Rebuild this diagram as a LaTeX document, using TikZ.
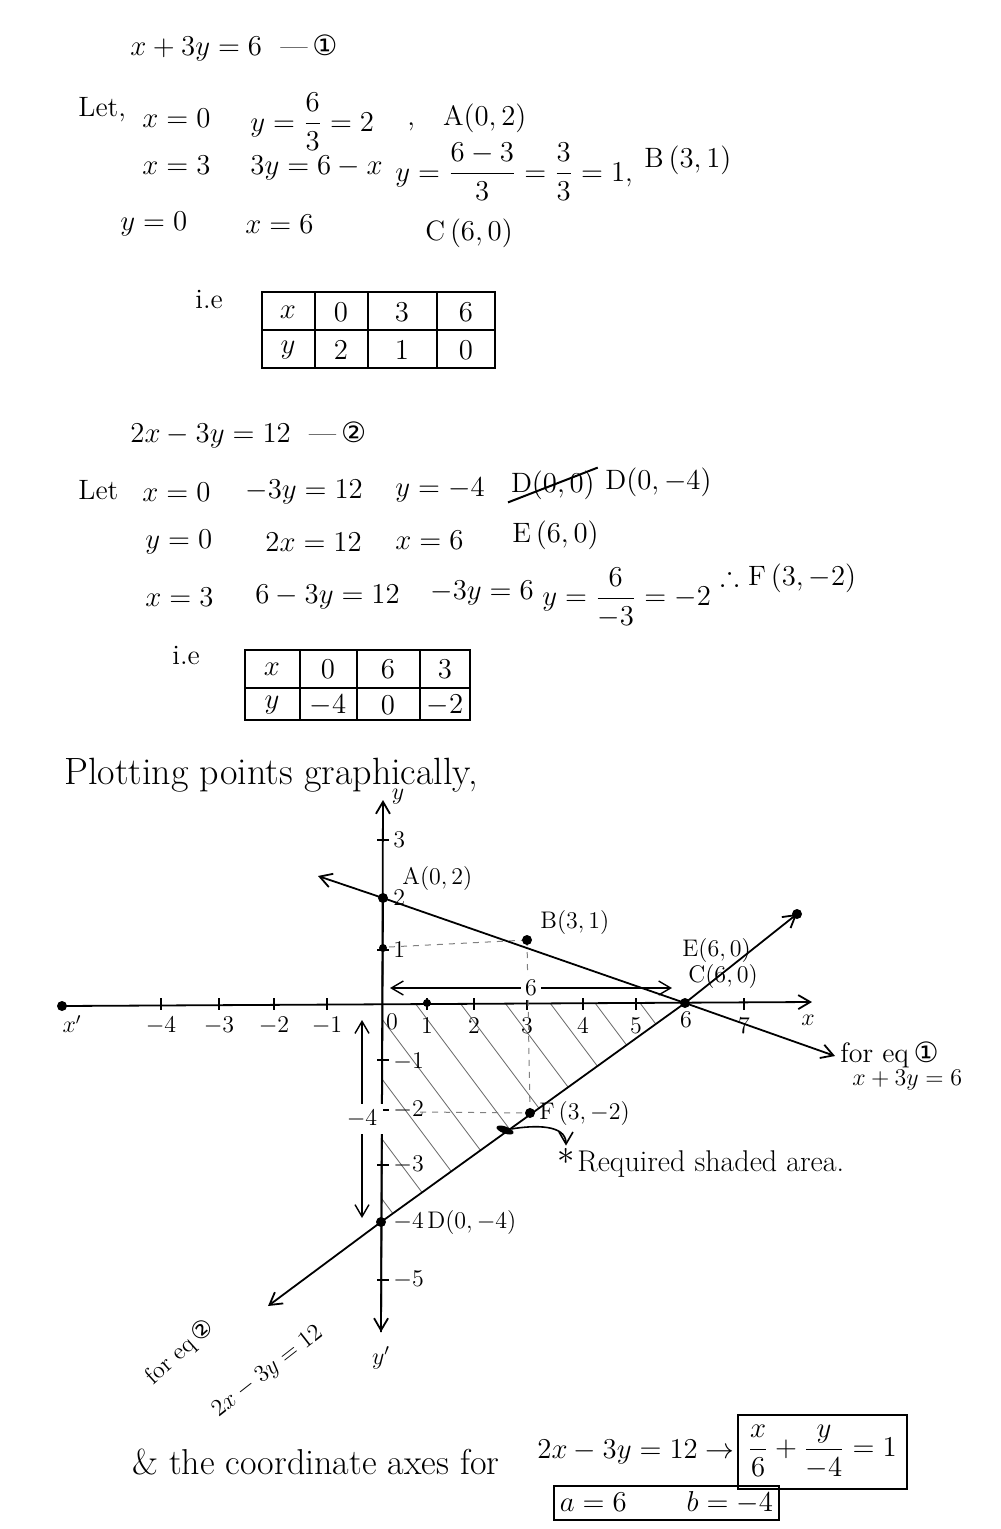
\documentclass[tikz,border=0pt]{standalone}
\usepackage{amsmath,amssymb}
\usepackage{fontspec}
\newfontfamily\dejavu{DejaVu Sans}
\usetikzlibrary{arrows.meta,shapes.misc,shapes.geometric}
\newcommand{\cone}{{\dejavu ①}}
\newcommand{\ctwo}{{\dejavu ②}}
\begin{document}
\begin{tikzpicture}[x=0.5pt,y=-0.5pt,
  txt/.style={anchor=west,inner sep=1pt,font=\fontsize{14}{17}\selectfont},
  big/.style={anchor=west,inner sep=1pt,font=\fontsize{19}{22}\selectfont},
  lbl/.style={inner sep=1pt,font=\fontsize{12}{14}\selectfont},
  dotp/.style={circle,fill,inner sep=0pt,minimum size=5pt},
  cell/.style={inner sep=1pt,font=\fontsize{14}{16}\selectfont},
  ln/.style={line width=0.9pt},
  tip/.style={-{Straight Barb[length=6pt,width=7pt]}},
  dtip/.style={{Straight Barb[length=6pt,width=7pt]}-{Straight Barb[length=6pt,width=7pt]}},
  dsh/.style={dashed,line width=0.5pt,gray},
  boxn/.style={draw,line width=0.8pt,inner sep=5pt,font=\fontsize{15}{18}\selectfont}]
\useasboundingbox[fill=white] (0,0) rectangle (1000,1529);

% ---------- equation 1 ----------
\node[txt] (e1) at (128,48) {$x+3y=6$ \ ---\,\cone};
\node[txt] (let1) at (76,110) {Let,};
\node[txt] (a1) at (140,118) {$x=0$};
\node[txt] (a2) at (248,122) {$y=\dfrac{6}{3}=2$};
\node[txt] (a3) at (405,118) {,\quad A$(0,2)$};
\node[txt] (b1) at (140,165) {$x=3$};
\node[txt] (b2) at (248,168) {$3y=6-x$};
\node[txt] (b3) at (393,172) {$y=\dfrac{6-3}{3}=\dfrac{3}{3}=1$,};
\node[txt] (b4) at (642,160) {B$\,(3,1)$};
\node[txt] (c1) at (118,224) {$y=0$};
\node[txt] (c2) at (243,224) {$x=6$};
\node[txt] (c3) at (423,233) {C$\,(6,0)$};
\node[txt] (ie1) at (193,300) {i.e};

% table 1
\draw[line width=0.9pt] (262,292) rectangle (495,368);
\draw[line width=0.8pt] (262,330) -- (495,330);
\foreach \cx in {315,368,437} \draw[line width=0.8pt] (\cx,292) -- (\cx,368);
\node[cell] (t1a) at (288,312) {$x$};
\node[cell] (t1b) at (341,312) {$0$};
\node[cell] (t1c) at (402,312) {$3$};
\node[cell] (t1d) at (466,312) {$6$};
\node[cell] (t1e) at (288,350) {$y$};
\node[cell] (t1f) at (341,350) {$2$};
\node[cell] (t1g) at (402,350) {$1$};
\node[cell] (t1h) at (466,350) {$0$};

% ---------- equation 2 ----------
\node[txt] (e2) at (128,435) {$2x-3y=12$ \ ---\,\ctwo};
\node[txt] (let2) at (76,490) {Let};
\node[txt] (d1) at (140,492) {$x=0$};
\node[txt] (d2) at (243,492) {$-3y=12$};
\node[txt] (d3) at (393,490) {$y=-4$};
\node[txt,strike out,draw,line width=1pt] (d4) at (508,485) {D$(0,0)$};
\node[txt] (d5) at (603,482) {D$(0,-4)$};
\node[txt] (f1) at (143,542) {$y=0$};
\node[txt] (f2) at (263,542) {$2x=12$};
\node[txt] (f3) at (393,540) {$x=6$};
\node[txt] (f4) at (510,535) {E$\,(6,0)$};
\node[txt] (g1) at (143,597) {$x=3$};
\node[txt] (g2) at (253,597) {$6-3y=12$};
\node[txt] (g3) at (428,593) {$-3y=6$};
\node[txt] (g4) at (540,598) {$y=\dfrac{6}{-3}=-2$};
\node[txt] (g5) at (718,578) {$\therefore$\ F$\,(3,-2)$};
\node[txt] (ie2) at (170,655) {i.e};

% table 2
\draw[line width=0.9pt] (245,650) rectangle (470,720);
\draw[line width=0.8pt] (245,688) -- (470,688);
\foreach \cx in {300,357,420} \draw[line width=0.8pt] (\cx,650) -- (\cx,720);
\node[cell] (t2a) at (272,669) {$x$};
\node[cell] (t2b) at (328,669) {$0$};
\node[cell] (t2c) at (388,669) {$6$};
\node[cell] (t2d) at (445,669) {$3$};
\node[cell] (t2e) at (272,705) {$y$};
\node[cell] (t2f) at (328,705) {$-4$};
\node[cell] (t2g) at (388,705) {$0$};
\node[cell] (t2h) at (445,705) {$-2$};

% ---------- graph ----------
\node[big] (plot) at (62,775) {Plotting points graphically,};

\coordinate (O) at (383,1003);
\coordinate (A) at (383,898);
\coordinate (B) at (527,940);
\coordinate (C) at (685,1003);
\coordinate (D) at (381,1222);
\coordinate (F) at (530,1113);

% hatching
\begin{scope}
  \clip (O) -- (C) -- (D) -- cycle;
  \foreach \s in {190,235,...,680}
    \draw[line width=0.4pt,gray!80!black] (\s,1003) -- ++(180,240);
\end{scope}

% axes
\coordinate (xl) at (62,1006);
\coordinate (xr) at (812,1002);
\coordinate (yt) at (383,800);
\coordinate (yb) at (381,1332);
\draw[ln,tip] (xl) -- (xr);
\draw[ln,tip] (yb) -- (yt);
\draw[ln,tip] (A) -- (yb);
\node[dotp] (xldot) at (xl) {};
\node[lbl] (xp) at (72,1024) {$x'$};
\node[lbl] (xx) at (808,1020) {$x$};
\node[lbl] (yy) at (398,797) {$y$};
\node[lbl] (yp) at (381,1358) {$y'$};

% x ticks
\foreach \px/\lab in {161/-4,219/-3,274/-2,327/-1,427/1,474/2,527/3,583/4,636/5,744/7}
  \draw[line width=0.8pt] (\px,998) -- (\px,1010);
\foreach \px/\lab in {161/-4,219/-3,274/-2,327/-1,427/1,474/2,527/3,583/4,636/5,744/7}
  \node[lbl] at (\px,1026) {$\lab$};
\node[lbl] (x0) at (392,1022) {$0$};
\node[lbl] (x6) at (686,1020) {$6$};

% y ticks
\foreach \py/\lab in {840/3,950/1,1060/-1,1110/-2,1165/-3,1280/-5}
  \draw[line width=0.8pt] (377,\py) -- (389,\py);
\node[lbl,anchor=west] at (391,840) {$3$};
\node[lbl,anchor=west] at (391,898) {$2$};
\node[lbl,anchor=west] at (391,950) {$1$};
\node[lbl,anchor=west] at (391,1062) {$-1$};
\node[lbl,anchor=west] at (391,1110) {$-2$};
\node[lbl,anchor=west] at (391,1165) {$-3$};
\node[lbl,anchor=west] at (391,1222) {$-4$};
\node[lbl,anchor=west] at (391,1280) {$-5$};

% dashed guides
\draw[dsh] (389,947) -- (B);
\draw[dsh] (B) -- (F);
\draw[dsh] (420,1112) -- (F);

% line 1 : x+3y=6
\coordinate (L1a) at (318,876);
\coordinate (L1b) at (835,1056);
\draw[ln,tip] (A) -- (L1a);
\draw[ln] (A) -- (C);
\draw[ln,tip] (C) -- (L1b);

% line 2 : 2x-3y=12
\coordinate (L2a) at (268,1306);
\coordinate (L2b) at (797,914);
\draw[ln,tip] (D) -- (L2a);
\draw[ln] (D) -- (C);
\draw[ln,tip] (C) -- (L2b);
\node[dotp] (L2dot) at (L2b) {};

% points
\node[dotp] (pA) at (A) {};
\node[dotp] (pB) at (B) {};
\node[dotp] (pC) at (C) {};
\node[dotp] (pD) at (D) {};
\node[dotp] (pF) at (F) {};
\node[dotp,minimum size=4pt] (p1) at (427,1003) {};
\node[dotp,minimum size=4pt] (q1) at (383,948) {};

% point labels
\node[lbl,anchor=west] (lA) at (400,878) {A$(0,2)$};
\node[lbl,anchor=west] (lB) at (538,922) {B$(3,1)$};
\node[lbl,anchor=west] (lE) at (680,950) {E$(6,0)$};
\node[lbl,anchor=west] (lC) at (686,976) {C$(6,0)$};
\node[lbl,anchor=west] (lF) at (537,1113) {F$\,(3,-2)$};
\node[lbl,anchor=west] (lD) at (425,1222) {D$(0,-4)$};

% distance arrows
\draw[line width=0.7pt,dtip] (390,988) -- node[fill=white,lbl,inner sep=2pt] (six) {$6$} (672,988);
\draw[line width=0.7pt,dtip] (362,1020) -- node[fill=white,lbl,inner sep=3pt] (mfour) {$-4$} (362,1218);

% equation labels
\node[txt] (fe1) at (838,1055) {for eq\,\cone};
\node[lbl,anchor=west] (fe1b) at (850,1080) {$x+3y=6$};
\node[lbl,rotate=42] (fe2) at (180,1352) {for eq\,\ctwo};
\node[lbl,rotate=38] (fe2b) at (268,1372) {$2x-3y=12$};

% required shaded area
\node[ellipse,fill,inner sep=0pt,minimum width=9pt,minimum height=3.5pt,rotate=-20] (blob) at (505,1130) {};
\node[lbl,font=\fontsize{16}{18}\selectfont] (star) at (566,1156) {$\ast$};
\node[txt,font=\fontsize{15}{18}\selectfont] (req) at (575,1164) {Required shaded area.};
\draw[line width=0.8pt,tip] (blob) to[out=15,in=90] (star);

% ---------- bottom ----------
\node[txt,font=\fontsize{18}{21}\selectfont] (amp) at (130,1462) {\& the coordinate axes for};
\node[txt,font=\fontsize{15}{18}\selectfont] (eqb) at (535,1452) {$2x-3y=12\rightarrow$};
\node[boxn,anchor=west] (intc) at (737,1452) {$\dfrac{x}{6}+\dfrac{y}{-4}=1$};
\node[boxn,anchor=west,inner sep=3pt] (ab) at (553,1503) {$a=6\qquad b=-4$};
\end{tikzpicture}
\end{document}
